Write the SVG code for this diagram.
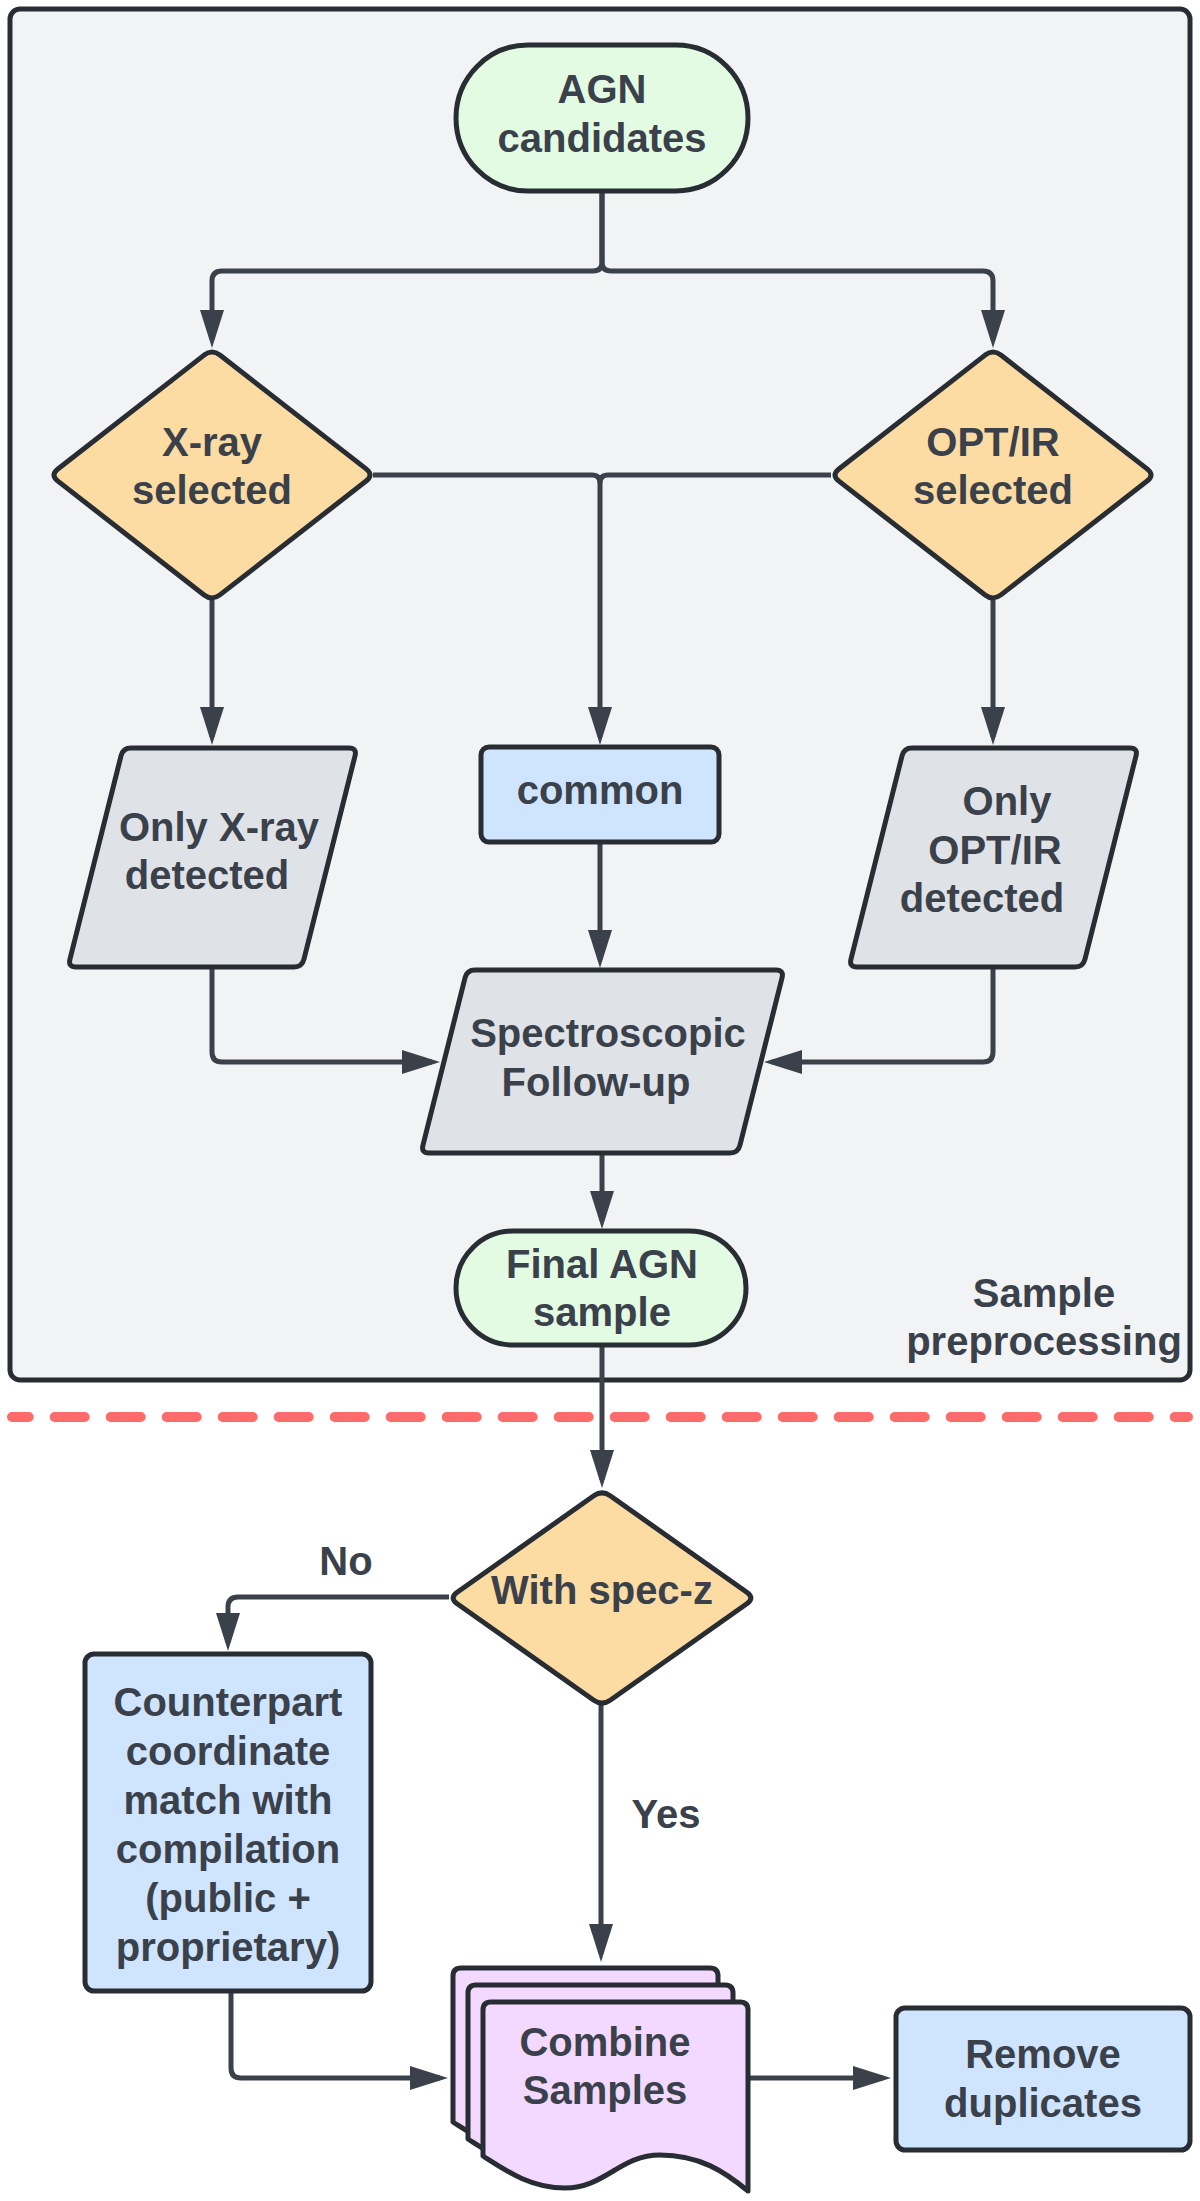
<svg xmlns="http://www.w3.org/2000/svg" xmlns:xlink="http://www.w3.org/1999/xlink" width="1200" height="2201" viewBox="0 0 1200 2201">
<style>
.shape{stroke:#282c33;stroke-width:5;stroke-linejoin:round}
.term{fill:#e3fae3}
.dec{fill:#fddca4}
.io{fill:#dfe3e8}
.proc{fill:#cfe4ff}
.doc{fill:#f3d9ff}
.conn{fill:none;stroke:#3a414a;stroke-width:5;marker-end:url(#ah)}
.line{fill:none;stroke:#3a414a;stroke-width:5}
text{font-family:"Liberation Sans",Arial,sans-serif;font-weight:bold;font-size:40px;fill:#3a414a;text-anchor:middle}
</style>
<defs>
<marker id="ah" viewBox="0 0 38 24" markerWidth="38" markerHeight="24" markerUnits="userSpaceOnUse" refX="30" refY="12" orient="auto">
<path d="M0,0 L38,12 L0,24 Z" fill="#3a414a"/>
</marker>
<path id="dia1" d="M-7.9,-119.9 Q0,-126 7.9,-119.9 L154.1,-6.1 Q162,0 154.1,6.1 L7.9,119.9 Q0,126 -7.9,119.9 L-154.1,6.1 Q-162,0 -154.1,-6.1 Z"/>
<path id="para1" d="M-1.95,7.76 Q0,0 8,0 H226 Q234,0 232.05,7.76 L180.95,211.24 Q179,219 171,219 H-47 Q-55,219 -53.05,211.24 Z"/>
<path id="page" d="M483,2156 V2010 Q483,2002 491,2002 H740 Q748,2002 748,2010 V2191 C725,2172 700,2155 660,2155 C620,2155 605,2188 565,2188 C530,2188 505,2170 483,2156 Z"/>
</defs>

<g id="container">
<rect x="10" y="9" width="1180" height="1371" rx="10" fill="#f2f3f5" stroke="#282c33" stroke-width="5"/>
<text x="1044" y="1307">Sample</text>
<text x="1044" y="1355">preprocessing</text>
</g>

<line id="separator" x1="12" y1="1417" x2="1188" y2="1417" stroke="#ff6b6b" stroke-width="10" stroke-linecap="round" stroke-dasharray="30 26" stroke-dashoffset="13.3"/>

<g id="connectors">
<path class="conn" d="M602,191 V262 Q602,271 593,271 H222 Q212,271 212,281 V340"/>
<path class="conn" d="M602,191 V262 Q602,271 611,271 H983 Q993,271 993,281 V340"/>
<path class="conn" d="M373,475 H592 Q600,475 600,483 V737"/>
<path class="line" d="M831,475 H608 Q600,475 600,483"/>
<path class="conn" d="M212,600 V737"/>
<path class="conn" d="M993,600 V737"/>
<path class="conn" d="M600,843 V960"/>
<path class="conn" d="M212,969 V1052 Q212,1062 222,1062 H432"/>
<path class="conn" d="M993,969 V1052 Q993,1062 983,1062 H772"/>
<path class="conn" d="M602,1154 V1221"/>
<path class="conn" d="M602,1345 V1480"/>
<path class="conn" d="M449,1597 H238 Q228,1597 228,1607 V1643"/>
<text x="346" y="1575">No</text>
<path class="conn" d="M601,1705 V1954"/>
<text x="666" y="1828">Yes</text>
<path class="conn" d="M231,1991 V2068 Q231,2078 241,2078 H440"/>
<path class="conn" d="M748,2078 H883"/>
</g>

<g id="agn-candidates">
<rect class="shape term" x="456" y="45" width="292" height="146" rx="72" ry="73"/>
<text x="602" y="103">AGN</text>
<text x="602" y="152">candidates</text>
</g>

<g id="xray-selected">
<use xlink:href="#dia1" class="shape dec" transform="translate(212,475)"/>
<text x="212" y="456">X-ray</text>
<text x="212" y="504">selected</text>
</g>

<g id="optir-selected">
<use xlink:href="#dia1" class="shape dec" transform="translate(993,475)"/>
<text x="993" y="456">OPT/IR</text>
<text x="993" y="504">selected</text>
</g>

<g id="only-xray">
<use xlink:href="#para1" class="shape io" transform="translate(123,748)"/>
<text x="219" y="841">Only X-ray</text>
<text x="207" y="889">detected</text>
</g>

<g id="common">
<rect class="shape proc" x="481" y="747" width="238" height="95" rx="8"/>
<text x="600" y="804">common</text>
</g>

<g id="only-optir">
<use xlink:href="#para1" class="shape io" transform="translate(904,748)"/>
<text x="1007" y="815">Only</text>
<text x="995" y="864">OPT/IR</text>
<text x="982" y="912">detected</text>
</g>

<g id="spectroscopic">
<path class="shape io" transform="translate(467,970)" d="M-1.95,7.76 Q0,0 8,0 H309 Q317,0 315.05,7.76 L272.95,175.24 Q271,183 263,183 H-38 Q-46,183 -44.05,175.24 Z"/>
<text x="608" y="1047">Spectroscopic</text>
<text x="596" y="1096">Follow-up</text>
</g>

<g id="final-agn">
<rect class="shape term" x="456" y="1231" width="290" height="114" rx="57"/>
<text x="602" y="1278">Final AGN</text>
<text x="602" y="1326">sample</text>
</g>

<g id="with-specz">
<path class="shape dec" transform="translate(602,1598)" d="M-8.2,-102.2 Q0,-108 8.2,-102.2 L144.8,-5.8 Q153,0 144.8,5.8 L8.2,102.2 Q0,108 -8.2,102.2 L-144.8,5.8 Q-153,0 -144.8,-5.8 Z"/>
<text x="602" y="1604">With spec-z</text>
</g>

<g id="counterpart">
<rect class="shape proc" x="85" y="1654" width="286" height="337" rx="9"/>
<text x="228" y="1716">Counterpart</text>
<text x="228" y="1765">coordinate</text>
<text x="228" y="1814">match with</text>
<text x="228" y="1863">compilation</text>
<text x="228" y="1912">(public +</text>
<text x="228" y="1961">proprietary)</text>
</g>

<g id="combine-samples">
<use xlink:href="#page" class="shape doc" transform="translate(-30,-34)"/>
<use xlink:href="#page" class="shape doc" transform="translate(-15,-17)"/>
<use xlink:href="#page" class="shape doc"/>
<text x="605" y="2056">Combine</text>
<text x="605" y="2104">Samples</text>
</g>

<g id="remove-duplicates">
<rect class="shape proc" x="896" y="2008" width="294" height="142" rx="9"/>
<text x="1043" y="2068">Remove</text>
<text x="1043" y="2117">duplicates</text>
</g>
</svg>
